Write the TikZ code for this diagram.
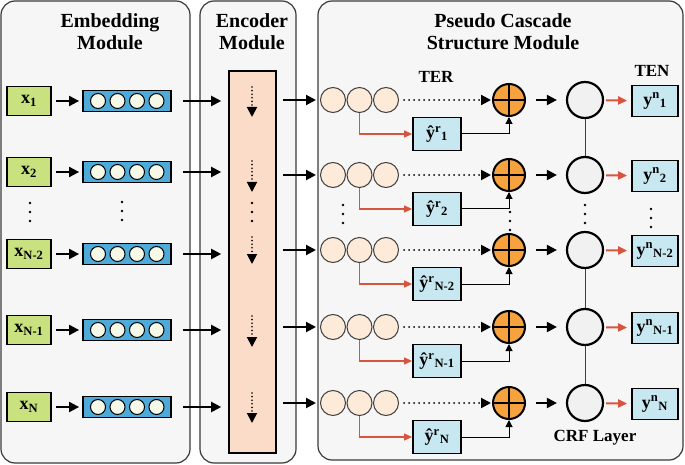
\documentclass[tikz,border=0pt]{standalone}
\usepackage{fontspec}
\setmainfont{Liberation Serif}
\usetikzlibrary{arrows.meta,calc}
\definecolor{xgreen}{HTML}{C9E27F}
\definecolor{vblue}{HTML}{4DAAD9}
\definecolor{vcream}{HTML}{F6F8E8}
\definecolor{encpeach}{HTML}{FBDCC8}
\definecolor{pcirc}{HTML}{FDEAD9}
\definecolor{oorange}{HTML}{F5A23F}
\definecolor{crfgray}{HTML}{F1F1F1}
\definecolor{yblue}{HTML}{C8E8F1}
\definecolor{redarr}{HTML}{D9543F}
\definecolor{panelfill}{HTML}{F6F6F6}
\definecolor{panelline}{HTML}{3A3A3A}
\newcommand{\supsub}[2]{\textsuperscript{#1}\textsubscript{#2}}
\tikzset{
  panel/.style={draw=panelline, line width=1.2pt, fill=panelfill, rounded corners=14pt},
  ttl/.style={font=\bfseries\fontsize{20}{22}\selectfont, align=center, inner sep=0pt},
  lbl/.style={font=\bfseries\fontsize{17}{20}\selectfont, inner sep=0pt},
  xbox/.style={draw=black, line width=1.8pt, fill=xgreen, minimum width=44pt, minimum height=29pt, inner sep=1pt, font=\bfseries\fontsize{18}{20}\selectfont},
  vec/.style={draw=black, line width=1.8pt, fill=vblue, minimum width=88pt, minimum height=21pt, inner sep=0pt},
  vdot/.style={circle, draw=black, line width=1pt, fill=vcream, minimum size=15pt, inner sep=0pt},
  encbar/.style={draw=black, line width=1.6pt, fill=encpeach, minimum width=47pt, minimum height=382pt, inner sep=0pt},
  pcir/.style={circle, draw=black!75, line width=1pt, fill=pcirc, minimum size=25pt, inner sep=0pt},
  oplus/.style={circle, draw=black, line width=2pt, fill=oorange, minimum size=32pt, inner sep=0pt},
  crf/.style={circle, draw=black, line width=2.2pt, fill=crfgray, minimum size=36pt, inner sep=0pt},
  ybox/.style={draw=black, line width=1.8pt, fill=yblue, minimum width=46pt, minimum height=31pt, inner sep=1pt, font=\bfseries\fontsize{18}{20}\selectfont},
  rbox/.style={draw=black, line width=1.8pt, fill=yblue, minimum width=48pt, minimum height=33pt, inner sep=1pt, font=\bfseries\fontsize{18}{20}\selectfont},
  arr/.style={line width=2pt, -{Triangle[length=10pt,width=10pt]}},
  dotarr/.style={line width=2pt, dash pattern=on 0pt off 5pt, line cap=round, -{Triangle[length=10pt,width=10pt]}},
  encarr/.style={line width=1.8pt, dash pattern=on 0pt off 3.6pt, line cap=round, -{Triangle[length=10pt,width=10pt]}},
  redl/.style={draw=redarr, line width=1.2pt, -{Triangle[length=8pt,width=7pt]}},
  redthick/.style={draw=redarr, line width=2pt, -{Triangle[length=9pt,width=8pt]}},
  sumline/.style={line width=1pt, -{Triangle[length=7pt,width=7pt]}},
  crfline/.style={draw=black!75, line width=1pt},
  crossl/.style={line width=1.5pt},
}
\begin{document}
\begin{tikzpicture}[x=1pt,y=-1pt]
\useasboundingbox (0,0) rectangle (685,465);
% panels
\draw[panel] (1,1) rectangle (190,463);
\draw[panel] (200,1) rectangle (296,463);
\draw[panel] (318,1) rectangle (683,460);
\node[ttl] (t1) at (110,32) {Embedding\\Module};
\node[ttl] (t2) at (252,32) {Encoder\\Module};
\node[ttl] (t3) at (503,32) {Pseudo Cascade\\Structure Module};
\node[lbl] (ter) at (436,77) {TER};
\node[lbl] (ten) at (652,71) {TEN};
\node[lbl] (crfl) at (595,438) {CRF Layer};
% encoder bar
\node[encbar] (enc) at (252.5,262) {};
% rows
\foreach \i/\ye/\yp/\lab/\ea/\eb in {1/101/100/1/87/117, 2/172/175/2/161/192, 3/254/250/N-2/237/264, 4/330/327/N-1/316/347, 5/407/403/N/393/423}{
  \node[xbox] (x\i) at (29,\ye) {x\textsubscript{\lab}};
  \node[vec] (v\i) at (127,\ye) {};
  \foreach \cx [count=\k] in {98,117.5,137,156.5}
    \node[vdot] (v\i d\k) at (\cx,\ye) {};
  \draw[arr, shorten <=4pt, shorten >=3pt] (x\i) -- (v\i);
  \draw[arr, shorten <=11pt, shorten >=7pt] (v\i.east) -- (v\i.east -| enc.west);
  \coordinate (ea\i) at (252,\ea);
  \coordinate (eb\i) at (252,\eb);
  \draw[encarr] (ea\i) -- (eb\i);
  % pseudo cascade
  \node[pcir] (pa\i) at (333,\yp) {};
  \node[pcir] (pb\i) at (359.5,\yp) {};
  \node[pcir] (pc\i) at (386,\yp) {};
  \node[oplus] (o\i) at (509,\yp) {};
  \draw[crossl] (o\i.north) -- (o\i.south) (o\i.west) -- (o\i.east);
  \node[crf] (c\i) at (585,\yp) {};
  \node[ybox] (y\i) at (655,\yp+1) {y\supsub{n}{\lab}};
  \node[rbox] (r\i) at (437,\yp+34) {ŷ\supsub{r}{\lab}};
  \draw[arr, shorten <=6pt, shorten >=4pt] (enc.east |- pa\i) -- (pa\i);
  \draw[dotarr, shorten <=5pt, shorten >=1pt] (pc\i) -- (o\i);
  \draw[arr, shorten <=10pt, shorten >=9pt] (o\i) -- (c\i);
  \draw[redthick, shorten <=2pt, shorten >=4pt] (c\i) -- (y\i);
  \draw[redl] (pb\i.south) |- (r\i.west);
  \draw[sumline] (r\i.east) -| (o\i.south);
}
\draw[crfline] (c1) -- (c2);
\draw[crfline] (c3) -- (c4);
\draw[crfline] (c4) -- (c5);
% vertical ellipses
\foreach \dx/\dy in {30/203, 122/202, 252/203, 343/205, 510/212, 585/205, 651/209}{
  \foreach \k in {0,1,2}
    \fill (\dx,\dy+\k*9) circle (1.3pt);
}
\end{tikzpicture}
\end{document}
